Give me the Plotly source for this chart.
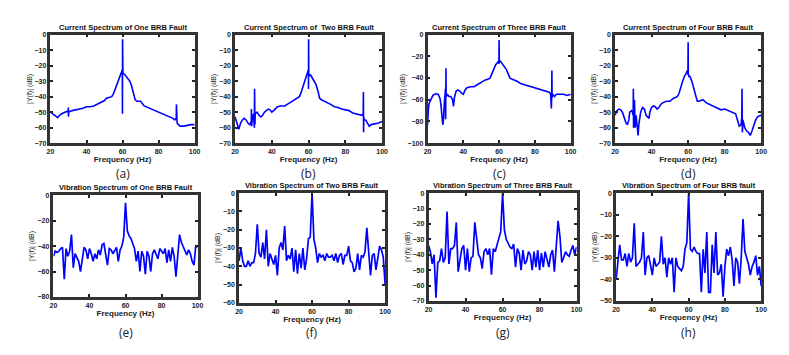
import plotly.graph_objects as go

# ---- current spectra (dense) ----
freq_a = [20, 21, 22, 23, 24, 25, 26, 27, 28, 29, 29.8, 29.9, 30, 30.1, 30.3, 31, 32, 34, 36, 38, 40, 42, 44, 46, 48, 50, 51, 52, 53,
          54, 55, 56, 57, 58, 59, 59.8, 59.9, 59.95, 60, 60.05, 60.2, 61, 62, 63, 64, 65, 66, 67, 68, 70, 72, 74, 76, 78, 80,
          82, 84, 86, 88, 89, 89.8, 89.9, 90, 90.1, 90.3, 91, 92, 94, 96, 98, 100]
db_a = [-50, -51, -52, -53, -53.5, -52, -51, -50.5, -50, -49.5, -50, -47, -53, -50, -49.5, -49.5, -49, -48.5, -48, -47.5, -46.5,
        -46.5, -46, -45, -44, -42.5, -41, -40.5, -40.5, -40, -38, -35, -32, -28, -25.5, -23, -25, -51, -3, -25, -25, -25.5, -27,
        -28.5, -30, -33, -37, -42, -43, -43, -46, -47, -48, -49, -50, -51, -52, -53, -54, -55, -54, -45, -57, -56, -57, -58,
        -59, -59, -58.5, -58, -58]

freq_b = [20, 21, 22, 23, 24, 25, 26, 27, 28, 28.8, 28.9, 29, 29.3, 29.6, 30, 30.5, 30.6, 30.7, 30.8, 31, 32, 33, 34, 35, 36, 37,
          38, 39, 40, 41, 42, 43, 45, 47, 49, 51, 53, 55, 56, 57, 58, 59, 59.8, 59.9, 59.95, 60, 60.05, 60.1, 60.5, 61, 62,
          63, 64, 65, 66, 67, 68, 70, 72, 74, 76, 78, 80, 82, 84, 86, 88, 89, 89.7, 89.8, 89.9, 90, 90.2, 91, 92, 93, 94, 96,
          98, 100]
db_b = [-53, -57, -61, -57, -55, -54, -55, -57, -58, -56, -48, -59, -55, -52, -51, -60, -35, -52, -58, -51, -50, -52, -53, -52,
        -50, -49, -48, -48.5, -50, -49, -48, -46.5, -46, -46, -44.5, -43, -41.5, -40, -37, -33, -29, -26, -23, -25, -35, -3,
        -25, -27, -26, -26, -28, -30, -32, -36, -41, -42, -42.5, -44, -45, -46.5, -47, -48, -48.5, -49, -50.5, -51, -51.5,
        -52, -51, -37, -63, -53, -55, -55, -57, -59, -58, -57.5, -57, -56]

freq_c = [20, 20.3, 20.6, 21, 22, 23, 24, 25, 26, 27, 27.5, 28, 28.5, 28.8, 29, 29.5, 29.8, 30, 30.1, 30.2, 30.3, 30.4, 30.6, 31,
          32, 33, 34, 34.5, 35, 36, 37, 38, 39, 40, 41, 42, 44, 46, 48, 50, 52, 54, 55, 56, 57, 58, 59, 59.8, 59.9, 60, 60.1,
          60.5, 61, 62, 63, 64, 65, 66, 67, 68, 70, 72, 74, 76, 78, 80, 82, 84, 86, 88, 88.8, 89, 89.2, 89.4, 89.5, 89.6, 90,
          91, 92, 94, 96, 98, 100]
db_c = [-83, -72, -66, -63, -59, -56, -55, -54.5, -55, -59, -65, -72, -83, -80, -66, -60, -55, -50, -78, -45, -31, -56, -57, -55,
        -57, -57, -60, -66, -58, -52, -51, -52, -54, -55, -51, -49, -48, -48, -46, -44, -42, -41, -40, -36, -32, -28, -26,
        -24, -27, -5, -26, -24, -25, -27, -29, -32, -36, -40, -41, -41.5, -43, -45, -46, -47, -48, -49, -50, -51, -52, -53,
        -55, -60, -68, -55, -33, -58, -55, -57, -55, -55, -55, -56, -55]

freq_d = [20, 21, 22, 23, 24, 25, 26, 26.8, 27.5, 28, 29, 29.5, 29.9, 30, 30.1, 30.3, 30.6, 31, 31.5, 32, 32.6, 33, 34, 35, 36,
          37, 38, 38.6, 39, 40, 41, 42, 43, 44, 45, 46, 48, 50, 52, 54, 55, 56, 57, 58, 59, 59.8, 59.9, 60, 60.1, 60.4, 61, 62,
          63, 64, 65, 66, 68, 70, 72, 74, 76, 78, 80, 82, 84, 86, 87, 88, 89, 89.4, 89.5, 89.7, 90, 91, 92, 93, 94, 95, 96, 97,
          98, 99, 100]
db_d = [-52, -49, -48, -48.5, -50, -54, -57, -58, -55, -50, -49, -50, -52, -35, -60, -44, -42, -60, -52, -60, -65, -58, -50, -47,
        -48, -52, -53, -54, -50, -47, -46, -46.5, -48, -47, -45, -44, -43, -43, -41, -40, -38, -33, -30, -27, -25, -23, -26,
        -5, -25, -27, -27, -30, -35, -40, -43, -43, -42, -44, -45, -46, -47, -48.5, -48, -49, -50.5, -51, -55, -59, -58,
        -53, -35, -63, -55, -60, -62, -63, -65, -62, -58, -55, -53, -52.5, -52]

# ---- vibration spectra (1 Hz bins, 20..100 Hz) ----
freq_vib = list(range(20, 101))
vib_e = [-48, -44, -45, -44, -42, -41, -66, -42, -48, -44, -31, -57, -46, -49, -52, -60, -48, -41, -43, -50, -42, -46, -52,
         -46, -50, -43, -47, -39, -38, -47, -55, -42, -43, -46, -44, -41, -52, -43, -40, -33, -6, -28, -32, -34, -38, -42,
         -52, -44, -60, -44, -48, -62, -44, -48, -60, -46, -43, -47, -50, -42, -44, -46, -42, -53, -43, -52, -41, -48, -64,
         -48, -31, -37, -40, -44, -47, -43, -46, -52, -55, -40, -41]
vib_f = [-37, -30, -37, -40, -40, -37, -40, -38, -38, -33, -17, -33, -35, -27, -36, -20, -40, -33, -36, -39, -34, -45, -30,
         -27, -31, -18, -37, -34, -36, -30, -43, -31, -44, -33, -41, -30, -42, -36, -25, -24, 0, -25, -30, -38, -33, -35,
         -34, -37, -33, -35, -35, -34, -37, -33, -38, -34, -33, -39, -34, -34, -29, -37, -38, -43, -41, -33, -42, -34, -35,
         -32, -19, -30, -45, -34, -33, -42, -36, -29, -31, -35, -50]
vib_g = [-34, -38, -46, -40, -68, -45, -44, -36, -45, -42, -12, -46, -36, -36, -34, -19, -51, -42, -36, -34, -50, -36, -51,
         -42, -41, -19, -30, -40, -42, -49, -38, -36, -40, -36, -53, -36, -38, -33, -30, -25, 0, -24, -30, -33, -35, -36,
         -33, -48, -36, -39, -50, -37, -46, -44, -38, -40, -50, -38, -48, -37, -50, -39, -48, -38, -44, -48, -40, -37, -51,
         -32, -18, -28, -45, -42, -38, -40, -41, -37, -34, -40, -35]
vib_h = [-40, -30, -24, -31, -31, -28, -34, -28, -32, -30, -14, -34, -33, -32, -30, -18, -38, -30, -29, -34, -38, -30, -34,
         -33, -32, -20, -33, -30, -39, -30, -33, -30, -46, -30, -34, -35, -36, -34, -26, -23, 0, -26, -27, -25, -27, -28,
         -28, -46, -26, -37, -18, -46, -46, -24, -37, -18, -38, -37, -33, -48, -34, -26, -29, -25, -31, -43, -30, -32, -42,
         -30, -12, -27, -30, -33, -38, -34, -32, -29, -38, -34, -43]

titles = ["Current Spectrum of One BRB Fault", "Current Spectrum of  Two BRB Fault",
          "Current Spectrum of Three BRB Fault", "Current Spectrum of Four BRB Fault",
          "Vibration Spectrum of One BRB Fault", "Vibration Spectrum of Two BRB Fault",
          "Vibration Spectrum of Three BRB Fault", "Vibration Spectrum of Four BRB fault"]
letters = ["(a)", "(b)", "(c)", "(d)", "(e)", "(f)", "(g)", "(h)"]
y_mins = [-70, -70, -100, -70, -80, -60, -70, -50]
y_steps = [10, 10, 20, 10, 20, 10, 10, 10]
x_ticks = [20, 40, 60, 80, 100]

series_x = [freq_a, freq_b, freq_c, freq_d] + [freq_vib] * 4
series_y = [db_a, db_b, db_c, db_d, vib_e, vib_f, vib_g, vib_h]

# the page body has an 8px margin, so the figure is drawn 16px smaller and offset
OFF = 8
W, H = 789 - 2 * OFF, 355 - 2 * OFF
# plot boxes in window pixels: left, right, top, bottom
boxes = [(47, 193, 31, 142), (234, 383, 31, 142), (429, 574, 31, 142), (619, 767, 31, 142),
         (50, 196, 195, 299), (238, 386, 193, 305), (430, 580, 193, 303), (620, 767, 193, 303)]
letter_y = [173, 173, 173, 173, 335, 335, 335, 335]


def px(x):
    return (x - OFF) / W


def py(y):
    return 1 - (y - OFF) / H


fig = go.Figure()
tick_font = dict(family="Liberation Sans, Arial", size=7, color="#222", weight="bold")
axes = {}

for i in range(8):
    l, r, t, b = boxes[i]
    n = "" if i == 0 else str(i + 1)
    fig.add_trace(go.Scatter(x=series_x[i], y=series_y[i], mode="lines",
                             line=dict(color="#0000ff", width=1.6 if i < 4 else 1.7),
                             xaxis="x" + n, yaxis="y" + n, showlegend=False))
    yt = list(range(0, y_mins[i] - 1, -y_steps[i]))
    axes["xaxis" + n] = dict(domain=[px(l), px(r)], anchor="y" + n, range=[20, 100],
                             tickvals=x_ticks, ticks="inside", ticklen=3, tickwidth=1.5, tickcolor="#222",
                             showline=True, linewidth=2.5, linecolor="#333", mirror="ticks",
                             showgrid=False, zeroline=False, tickfont=tick_font,
                             title=dict(text="Frequency (Hz)", standoff=1,
                                        font=dict(family="Liberation Sans, Arial", size=8,
                                                  color="#222", weight="bold")))
    axes["yaxis" + n] = dict(domain=[py(b), py(t)], anchor="x" + n,
                             range=[y_mins[i], 0], tickvals=yt, ticks="inside", ticklen=3, tickwidth=1.5,
                             tickcolor="#222", showline=True, linewidth=2.5, linecolor="#333",
                             mirror="ticks", showgrid=False, zeroline=False, tickfont=tick_font,
                             title=dict(text="|Y(f)| (dB)", standoff=2,
                                        font=dict(family="Liberation Sans, Arial", size=7,
                                                  color="#222")))
    fig.add_annotation(text=titles[i], xref="paper", yref="paper", x=px((l + r) / 2), y=py(t - 1),
                       xanchor="center", yanchor="bottom", showarrow=False,
                       font=dict(family="Liberation Sans, Arial", size=7.5, color="#111", weight="bold"))
    fig.add_annotation(text=letters[i], xref="paper", yref="paper", x=px((l + r) / 2), y=py(letter_y[i]),
                       xanchor="center", yanchor="middle", showarrow=False,
                       font=dict(family="Open Sans", size=12, color="#222"))

fig.update_layout(width=W, height=H, margin=dict(l=0, r=0, t=0, b=0),
                  plot_bgcolor="white", paper_bgcolor="white", **axes)
fig.write_html("out.html")
